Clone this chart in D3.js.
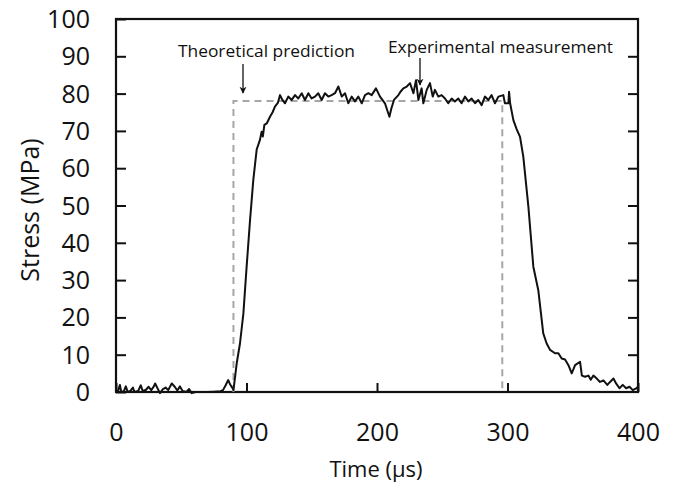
<!DOCTYPE html>
<html>
<head>
<meta charset="utf-8">
<script src="https://cdn.jsdelivr.net/npm/d3@7/dist/d3.min.js"></script>
<style>
  html, body { margin: 0; padding: 0; background: #fff; }
  svg { display: block; }
  text { font-family: "Open Sans", "Noto Sans", sans-serif; fill: #111; }
</style>
</head>
<body>
<svg id="chart" width="675" height="492"></svg>
<script>
// ---- data ----
const expTime = [0,1.5,3,4,6,7.5,9,11,13,14,17,19,20.5,23,25,27,29,30,31.5,33.7,36,38,40,42.7,45,47,49,51,54,56,58,61,65,70,75,80,82,84,86,87.5,88.6,89.5,90,
  92.5,95,97.6,100.1,102.7,105.2,107.8,110.3,111.6,112.5,113.7,115.5,118,120,121.8,124,125.7,127.5,129.5,132,134.6,137.2,139.7,142.3,144.8,147.4,149.9,152.5,155,157.6,160.1,162.7,165.2,167.8,170.4,173,175.5,178,180.6,183.1,185.7,188.3,190.8,193.4,195.9,199.2,202.3,206.1,209.5,211,213,216.4,218,220.2,222.8,225.3,227.9,229.9,231.7,234.2,235.5,238.1,240.6,242.7,244.4,247,249.5,252.1,254.6,257.2,259.7,262.3,264.8,267.4,270,272.5,275.1,277.6,280.2,282.7,285.3,287.8,290.4,293,296.8,298,300.7,301.2,302,304.5,307,309.6,312.1,316,319.8,323.6,327.4,330,332.6,336.4,339,341.5,344.1,346.7,349.2,351.8,355.6,357,359.4,362,363.8,365.8,368.4,370.9,373.5,376.5,378.6,381.2,383.2,385.8,388.3,390.9,393.5,396,398.6,400];
const expStress = [0.3,0.2,1.9,0,0.2,1.5,0,0.3,1.2,0,0.3,1.8,0.2,0.6,1.4,0.5,1.5,2.3,1.2,-0.3,0.8,1.2,0.5,2.3,1.4,0.4,1.5,0.3,0,0.8,-0.3,0,0,0,0.1,0.2,0.5,1.8,3.2,2,1.4,1.0,0.5,
  7.7,13,21,33.6,46,56.8,65,67.6,69.8,68.5,71.6,72,73.8,75,76.5,77.5,79.6,78.3,77.4,79.2,78.3,79.6,78.7,80.1,78.3,80.1,78.7,79.2,80.1,78.3,80.1,79.2,79.6,80.1,81.9,79.2,80.1,77.4,79.2,77.9,79.2,77.4,79.6,80.1,79.6,81.4,79.2,77.4,73.8,76,78.3,79.6,80.5,81.4,81.9,82.8,80.1,83.6,78.3,81.4,77.4,81,82.8,79.2,81,79.2,79.6,78.7,77.4,78.7,77.9,78.7,77.4,79.2,77.9,78.7,77.4,78.3,76.9,79.2,78.3,79.6,77.4,79.2,79.6,77.4,77.4,80.5,77.4,72.9,70.5,68.4,63.1,49.7,33.6,27.3,15.7,13,11.3,10.4,10.4,9,8.7,7.2,5,7.2,8.1,4.4,4.1,4.4,3.3,4.4,3.6,2.7,3.1,1.9,2.7,3.6,2.3,1.0,1.9,1.0,1.4,0.5,1.0,1.4];
const predTime = [90, 90, 296, 296];
const predStress = [0, 78, 78, 0];
const xTicks = [0, 100, 200, 300, 400];
const yTicks = [0, 10, 20, 30, 40, 50, 60, 70, 80, 90, 100];
const labels = { x: "Time (µs)", y: "Stress (MPa)", pred: "Theoretical prediction", exp: "Experimental measurement" };

// ---- layout ----
const W = 675, H = 492;
const m = { left: 116, right: 37, top: 19, bottom: 100 };
const iw = W - m.left - m.right, ih = H - m.top - m.bottom;

const svg = d3.select("#chart");
const g = svg.append("g").attr("transform", `translate(${m.left},${m.top})`);

const x = d3.scaleLinear().domain([0, 400]).range([0, iw]);
const y = d3.scaleLinear().domain([0, 100]).range([ih, 0]);

// defs: arrowhead
svg.append("defs").append("marker")
  .attr("id", "arr").attr("viewBox", "0 0 10 10").attr("refX", 9).attr("refY", 5)
  .attr("markerWidth", 7).attr("markerHeight", 10).attr("orient", "auto")
  .attr("markerUnits", "userSpaceOnUse")
  .append("path").attr("d", "M0,0 L10,5 L0,10 L3,5 Z").attr("fill", "#111");

// axes
const yAxis = d3.axisLeft(y).tickValues(yTicks).tickSize(-10).tickPadding(26);
const yG = g.append("g").call(yAxis);
yG.select(".domain").remove();
yG.selectAll("line").attr("stroke", "#111").attr("stroke-width", 2);
yG.selectAll("text").attr("font-size", 25).attr("font-family", "Open Sans").attr("fill", "#111").attr("dy", "0.34em");

const yAxisR = d3.axisRight(y).tickValues(yTicks.slice(1, -1)).tickSize(-10).tickFormat("");
const yR = g.append("g").attr("transform", `translate(${iw},0)`).call(yAxisR);
yR.select(".domain").remove();
yR.selectAll("line").attr("stroke", "#111").attr("stroke-width", 2);

const xAxis = d3.axisBottom(x).tickValues(xTicks).tickSize(-9).tickPadding(31);
const xG = g.append("g").attr("transform", `translate(0,${ih})`).call(xAxis);
xG.select(".domain").remove();
xG.selectAll("line").attr("stroke", "#111").attr("stroke-width", 2);
xG.selectAll("text").attr("font-size", 25).attr("font-family", "Open Sans").attr("fill", "#111");

// frame
g.append("rect").attr("x", 0).attr("y", 0).attr("width", iw).attr("height", ih)
  .attr("fill", "none").attr("stroke", "#111").attr("stroke-width", 2.2);

// prediction (dashed)
const pred = predTime.map((t, i) => [t, predStress[i]]);
g.append("path").datum(pred)
  .attr("d", d3.line().x(d => x(d[0])).y(d => y(d[1])))
  .attr("fill", "none").attr("stroke", "#a6a6a6").attr("stroke-width", 2)
  .attr("stroke-dasharray", "7,5");

// experimental
const exp = expTime.map((t, i) => [t, expStress[i]]);
g.append("path").datum(exp)
  .attr("d", d3.line().x(d => x(d[0])).y(d => y(d[1])))
  .attr("fill", "none").attr("stroke", "#111").attr("stroke-width", 2)
  .attr("stroke-linejoin", "round");

// annotations
svg.append("text").attr("x", 178).attr("y", 57).attr("font-size", 16.5)
  .attr("textLength", 177).attr("lengthAdjust", "spacingAndGlyphs").text(labels.pred);
svg.append("text").attr("x", 388).attr("y", 53).attr("font-size", 16.5)
  .attr("textLength", 225).attr("lengthAdjust", "spacingAndGlyphs").text(labels.exp);
svg.append("line").attr("x1", 243).attr("y1", 64).attr("x2", 243).attr("y2", 93)
  .attr("stroke", "#111").attr("stroke-width", 1.3).attr("marker-end", "url(#arr)");
svg.append("line").attr("x1", 420).attr("y1", 58).attr("x2", 420).attr("y2", 85)
  .attr("stroke", "#111").attr("stroke-width", 1.3).attr("marker-end", "url(#arr)");

// axis titles
svg.append("text").attr("x", 376).attr("y", 477).attr("text-anchor", "middle")
  .attr("font-size", 22).text(labels.x);
svg.append("text").attr("transform", `translate(39,210) rotate(-90)`)
  .attr("text-anchor", "middle").attr("font-size", 25).text(labels.y);
</script>
</body>
</html>
